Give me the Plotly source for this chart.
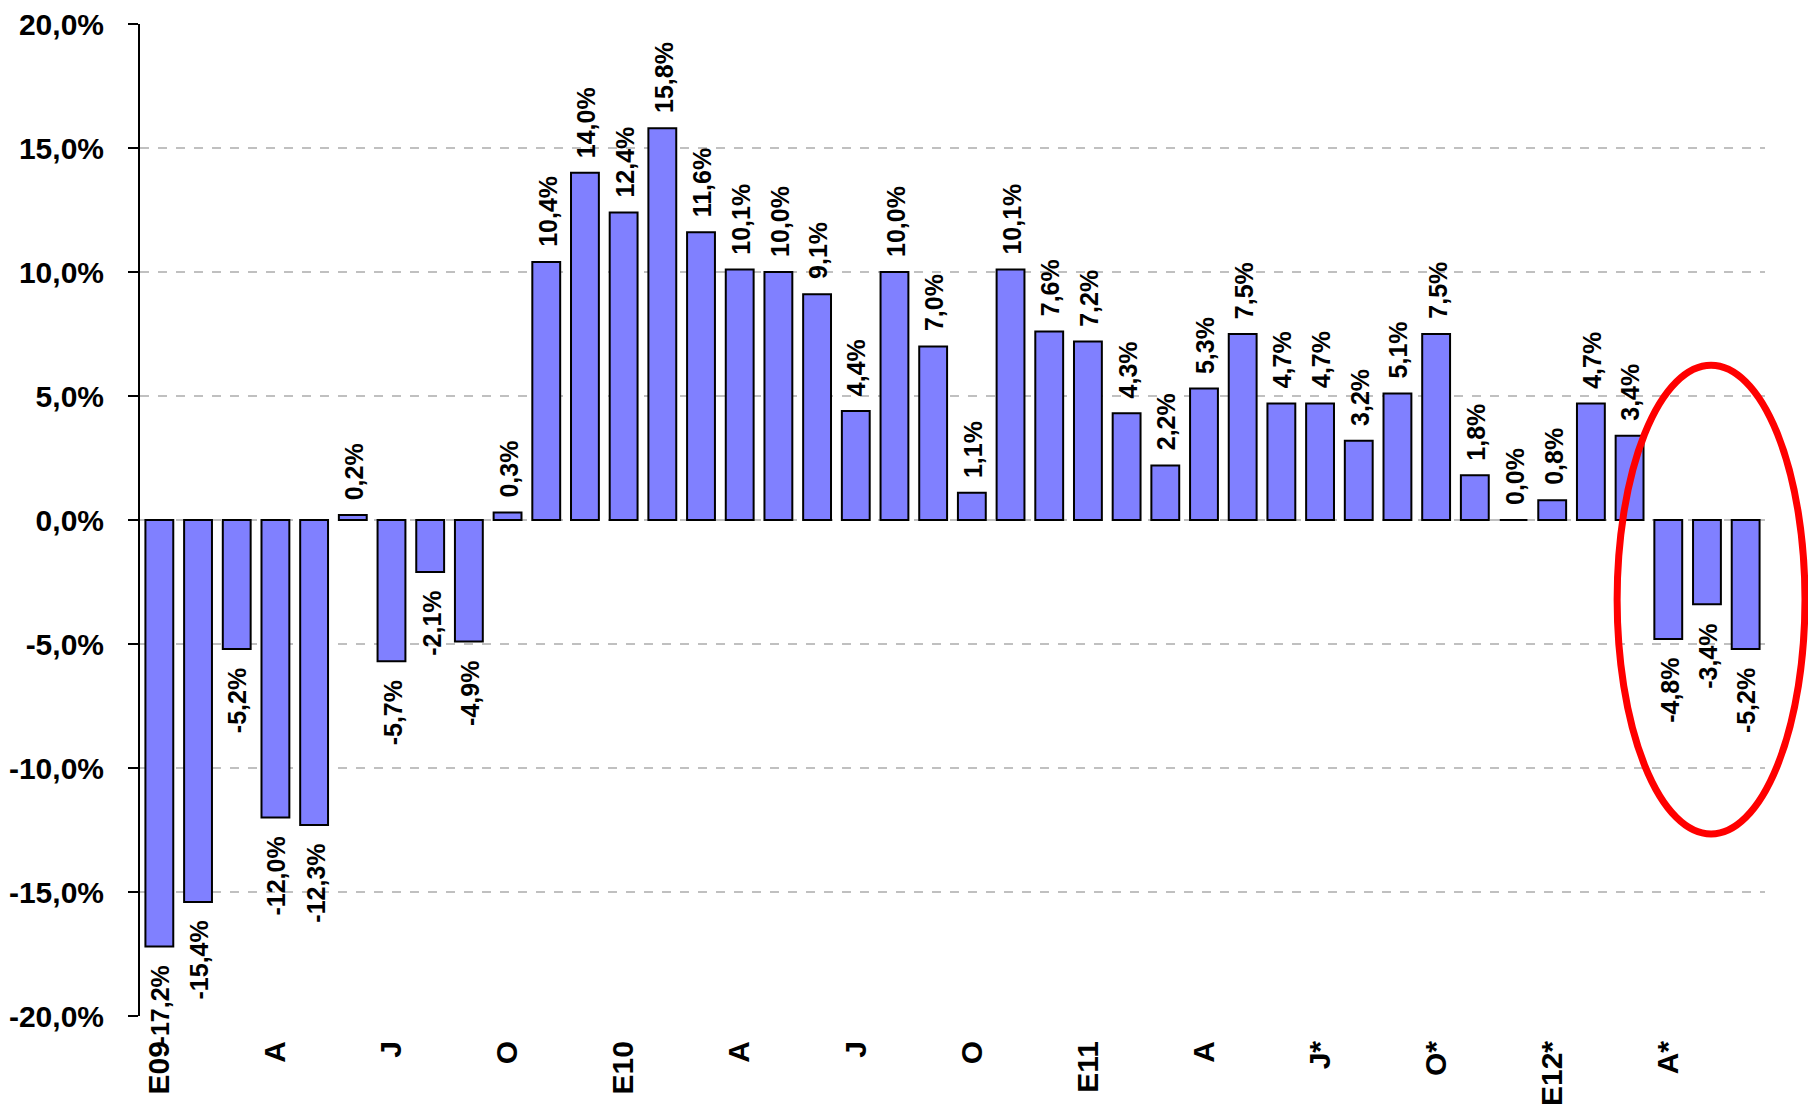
import plotly.graph_objects as go

months = ["E09","F09","M09","A09","My09","J09","Jl09","Ag09","S09","O09","N09","D09",
          "E10","F10","M10","A10","My10","J10","Jl10","Ag10","S10","O10","N10","D10",
          "E11","F11","M11","A11","My11","J11","Jl11","Ag11","S11","O11","N11","D11",
          "E12","F12","M12","A12","My12","J12"]
values = [-17.2, -15.4, -5.2, -12.0, -12.3, 0.2, -5.7, -2.1, -4.9, 0.3, 10.4, 14.0,
          12.4, 15.8, 11.6, 10.1, 10.0, 9.1, 4.4, 10.0, 7.0, 1.1, 10.1, 7.6,
          7.2, 4.3, 2.2, 5.3, 7.5, 4.7, 4.7, 3.2, 5.1, 7.5, 1.8, 0.0,
          0.8, 4.7, 3.4, -4.8, -3.4, -5.2]
tick_cats = ["E09","A09","Jl09","O09","E10","A10","Jl10","O10","E11","A11","Jl11","O11","E12","A12"]
tick_text = ["E09","A","J","O","E10","A","J","O","E11","A","J*","O*","E12*","A*"]
y_ticks = [-20,-15,-10,-5,0,5,10,15,20]
y_tick_text = ["-20,0%","-15,0%","-10,0%","-5,0%","0,0%","5,0%","10,0%","15,0%","20,0%"]

def fmt(v):
    return ("%.1f%%" % v).replace(".", ",")

fig = go.Figure()
fig.add_trace(go.Bar(
    x=months, y=values,
    marker=dict(color="#8080FF", line=dict(color="black", width=2)),
    cliponaxis=False, hoverinfo="skip",
))

for m, v in zip(months, values):
    neg = v < 0
    fig.add_annotation(
        x=m, y=v, text=fmt(v), textangle=-90, showarrow=False,
        xanchor="center", yanchor="top" if neg else "bottom",
        yshift=-17 if neg else 13, xshift=1,
        font=dict(family="Liberation Sans, Arial, sans-serif", size=25, color="black", weight="bold"),
    )

# highlight ellipse
fig.add_shape(type="circle", xref="paper", yref="paper",
              x0=0.909, x1=1.0246, y0=0.1835, y1=0.656,
              line=dict(color="#FF0000", width=7), fillcolor="rgba(0,0,0,0)")

fig.update_layout(
    width=1808, height=1107,
    margin=dict(l=140, r=43, t=24, b=91),
    plot_bgcolor="white", paper_bgcolor="white",
    bargap=0.28, showlegend=False,
    font=dict(family="Liberation Sans, Arial, sans-serif", color="black"),
)
fig.update_xaxes(
    tickmode="array", tickvals=tick_cats, ticktext=tick_text, tickangle=-90,
    tickfont=dict(size=30, weight="bold"), showgrid=False, showline=False,
    ticks="", ticklabelstandoff=18, automargin=False,
)
fig.update_yaxes(
    range=[-20, 20], tickmode="array", tickvals=y_ticks, ticktext=y_tick_text,
    tickfont=dict(size=30, weight="bold"), showgrid=True, gridcolor="#C0C0C0",
    griddash="dash", gridwidth=1.5, zeroline=False,
    showline=True, linecolor="black", linewidth=2, ticks="outside", ticklen=10,
    tickwidth=2, tickcolor="black", ticklabelstandoff=18, automargin=False,
)

fig.write_html("out.html", config={"displayModeBar": False},
               post_script="document.body.style.margin='0';document.body.style.padding='0';document.body.style.overflow='hidden';")
